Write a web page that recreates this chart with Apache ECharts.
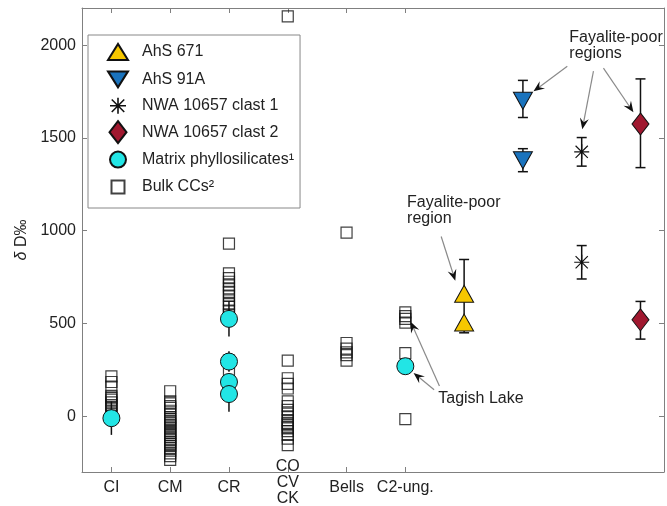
<!DOCTYPE html>
<html>
<head>
<meta charset="utf-8">
<script src="https://cdn.jsdelivr.net/npm/echarts@6/dist/echarts.min.js"></script>
<style>
html,body{margin:0;padding:0;background:#fff;}
#main{width:667px;height:506px;}
</style>
</head>
<body>
<div id="main"></div>
<script>
// ---- data ----
const categories = ['CI', 'CM', 'CR', 'CO\nCV\nCK', 'Bells', 'C2-ung.'];
const yTicks = [0, 500, 1000, 1500, 2000];

// Bulk CCs (one array per class)
const bulkCI = [215, 185, 160, 110, 100, 90, 75, 60, 45, 25, 10];
const bulkCM = [135, 80, 70, 55, 45, 30, 10, -5, -15, -25, -35, -45, -55, -65, -80, -90, -100, -110, -120, -130, -140, -150, -160, -170, -185, -200, -215, -235];
const bulkCR = [930, 770, 745, 725, 705, 690, 670, 650, 625, 605, 590, 570, 550, 300, 250];
const bulkCO = [2155, 300, 205, 175, 150, 80, 55, 35, 15, 0, -20, -35, -45, -55, -65, -80, -100, -120, -155];
const bulkBells = [990, 395, 365, 345, 330, 300];
const bulkC2 = [560, 540, 525, 505, 340, -15];

// Matrix phyllosilicates
const matrixCat = [1, 3, 3, 3, 3, 6];
const matrixVal = [-10, 525, 295, 185, 120, 270];
const matrixLow = [-100, 430, 240, null, 25, null];
const matrixHigh = [80, 620, 350, null, 215, null];

// Samples (category slot, value, error low, error high)
const ahs671Pos = 7;
const ahs671Val = [660, 505];
const ahs671Low = [480, 450];
const ahs671High = [845, 505];

const ahs91Pos = 8;
const ahs91Val = [1700, 1380];
const ahs91Low = [1610, 1318];
const ahs91High = [1810, 1442];

const clast1Pos = 9;
const clast1Val = [1425, 830];
const clast1Low = [1348, 740];
const clast1High = [1502, 920];

const clast2Pos = 10;
const clast2Val = [1575, 520];
const clast2Low = [1340, 416];
const clast2High = [1818, 619];

// ---- build ----
const FONT = '"Liberation Sans", Arial, Helvetica, sans-serif';
const bulkGroups = [bulkCI, bulkCM, bulkCR, bulkCO, bulkBells, bulkC2];
const bulkData = [];
bulkGroups.forEach((g, i) => g.forEach(v => bulkData.push([i + 1, v])));

const matrixData = matrixVal.map((v, i) => [matrixCat[i], v]);
const matrixErr = [];
matrixVal.forEach((v, i) => { if (matrixLow[i] != null) matrixErr.push([matrixCat[i], matrixLow[i], matrixHigh[i]]); });

function pts(pos, vals) { return vals.map(v => [pos, v]); }
function errs(pos, lo, hi) { return lo.map((l, i) => [pos, l, hi[i]]); }

const sampleErr = [].concat(
  errs(ahs671Pos, ahs671Low, ahs671High),
  errs(ahs91Pos, ahs91Low, ahs91High),
  errs(clast1Pos, clast1Low, clast1High),
  errs(clast2Pos, clast2Low, clast2High)
);

function errRender(caps) {
  return function (params, api) {
    const x = api.value(0), lo = api.value(1), hi = api.value(2);
    const a = api.coord([x, lo]), b = api.coord([x, hi]);
    const st = { stroke: '#111', lineWidth: 1.5 };
    const ch = [{ type: 'line', shape: { x1: a[0], y1: a[1], x2: b[0], y2: b[1] }, style: st }];
    if (caps) {
      ch.push({ type: 'line', shape: { x1: a[0] - 5, y1: a[1], x2: a[0] + 5, y2: a[1] }, style: st });
      ch.push({ type: 'line', shape: { x1: b[0] - 5, y1: b[1], x2: b[0] + 5, y2: b[1] }, style: st });
    }
    return { type: 'group', children: ch };
  };
}

const asterisk = 'path://M9.2,0 L10.8,0 L10.8,20 L9.2,20 Z M0,9.2 L20,9.2 L20,10.8 L0,10.8 Z M2.4,1.3 L18.7,17.6 L17.6,18.7 L1.3,2.4 Z M17.6,1.3 L18.7,2.4 L2.4,18.7 L1.3,17.6 Z';

// legend icons in a common 22x22 frame (M0,0 M22,22 fixes the frame)
const F = 'path://M0,0 M22,22 ';
const legendIcons = {
  up: F + 'M1,19 L11,3 L21,19 Z',
  down: F + 'M1,3 L21,3 L11,19 Z',
  star: F + 'M10.2,3 L11.8,3 L11.8,19 L10.2,19 Z M3,10.2 L19,10.2 L19,11.8 L3,11.8 Z M5.3,4.2 L17.8,16.7 L16.7,17.8 L4.2,5.3 Z M16.7,4.2 L17.8,5.3 L5.3,17.8 L4.2,16.7 Z',
  diamond: F + 'M11,0 L19.5,11 L11,22 L2.5,11 Z',
  circle: F + 'M3,11 A8,8 0 1,1 19,11 A8,8 0 1,1 3,11 Z',
  square: F + 'M4.5,4.5 L17.5,4.5 L17.5,17.5 L4.5,17.5 Z'
};

const chart = echarts.init(document.getElementById('main'), null, { renderer: 'canvas' });

const axisCol = '#808080';
const option = {
  backgroundColor: '#fff',
  animation: false,
  textStyle: { fontFamily: FONT },
  grid: { left: 82, right: 3, top: 8, bottom: 34, containLabel: false },
  legend: {
    orient: 'vertical',
    left: 88, top: 35,
    padding: [5, 6, 9, 18],
    itemGap: 3.4,
    itemWidth: 22, itemHeight: 22,
    borderColor: '#888', borderWidth: 1,
    backgroundColor: '#fff',
    textStyle: { fontSize: 16, color: '#222', fontFamily: FONT, padding: [0, 0, 0, 8] },
    data: [
      { name: 'AhS 671', icon: legendIcons.up },
      { name: 'AhS 91A', icon: legendIcons.down },
      { name: 'NWA 10657 clast 1', icon: legendIcons.star },
      { name: 'NWA 10657 clast 2', icon: legendIcons.diamond },
      { name: 'Matrix phyllosilicates¹', icon: legendIcons.circle },
      { name: 'Bulk CCs²', icon: legendIcons.square }
    ],
    selectedMode: false
  },
  xAxis: [{
    type: 'value', min: 0.5, max: 10.4,
    axisLine: { show: true, onZero: false, lineStyle: { color: axisCol } },
    axisTick: { show: true, inside: true, length: 5, lineStyle: { color: axisCol }, customValues: [1, 2, 3, 4, 5, 6] },
    axisLabel: {
      customValues: [1, 2, 3, 4, 5, 6], margin: 8, fontSize: 16, color: '#222', fontFamily: FONT,
      formatter: v => (v === 4 ? '' : categories[v - 1])
    },
    splitLine: { show: false }
  }, {
    type: 'value', min: 0.5, max: 10.4, position: 'top',
    axisLine: { show: true, onZero: false, lineStyle: { color: axisCol } },
    axisTick: { show: true, inside: true, length: 5, lineStyle: { color: axisCol }, customValues: [1, 2, 3, 4, 5, 6] },
    axisLabel: { show: false },
    splitLine: { show: false }
  }],
  yAxis: [{
    type: 'value', min: -300, max: 2200,
    name: '{i|δ} D‰', nameLocation: 'middle', nameGap: 28,
    nameTextStyle: { fontSize: 16, color: '#222', fontFamily: FONT, rich: { i: { fontStyle: 'italic', fontSize: 16, fontFamily: FONT } } },
    axisLine: { show: true, onZero: false, lineStyle: { color: axisCol } },
    axisTick: { show: true, inside: true, length: 5, lineStyle: { color: axisCol }, customValues: yTicks },
    axisLabel: { customValues: yTicks, margin: 6, fontSize: 16, color: '#222', fontFamily: FONT, formatter: v => String(v) },
    splitLine: { show: false }
  }, {
    type: 'value', min: -300, max: 2200, position: 'right',
    axisLine: { show: true, onZero: false, lineStyle: { color: axisCol } },
    axisTick: { show: true, inside: true, length: 5, lineStyle: { color: axisCol }, customValues: yTicks },
    axisLabel: { show: false },
    splitLine: { show: false }
  }],
  series: [
    {
      name: 'Bulk CCs²', type: 'scatter', data: bulkData, symbol: 'rect', symbolSize: 11, z: 2,
      itemStyle: { color: 'rgba(255,255,255,0)', borderColor: '#111', borderWidth: 1.2 }
    },
    { type: 'custom', renderItem: errRender(false), data: matrixErr, encode: { x: 0, y: [1, 2] }, z: 3, silent: true },
    {
      name: 'Matrix phyllosilicates¹', type: 'scatter', data: matrixData, symbol: 'circle', symbolSize: 17, z: 4,
      itemStyle: { color: '#22e5e5', borderColor: '#111', borderWidth: 1, opacity: 1 }
    },
    { type: 'custom', renderItem: errRender(true), data: sampleErr, encode: { x: 0, y: [1, 2] }, z: 3, silent: true },
    {
      name: 'AhS 671', type: 'scatter', data: pts(ahs671Pos, ahs671Val), symbol: 'triangle', symbolSize: [19, 17], z: 4,
      itemStyle: { color: '#f6c700', borderColor: '#111', borderWidth: 1, opacity: 1 }
    },
    {
      name: 'AhS 91A', type: 'scatter', data: pts(ahs91Pos, ahs91Val), symbol: 'triangle', symbolRotate: 180, symbolSize: [19, 17], z: 4,
      itemStyle: { color: '#1a73bd', borderColor: '#111', borderWidth: 1, opacity: 1 }
    },
    {
      name: 'NWA 10657 clast 1', type: 'scatter', data: pts(clast1Pos, clast1Val), symbol: asterisk, symbolSize: 15, z: 4,
      itemStyle: { color: '#111', opacity: 1 }
    },
    {
      name: 'NWA 10657 clast 2', type: 'scatter', data: pts(clast2Pos, clast2Val), symbol: 'diamond', symbolSize: [17, 22], z: 4,
      itemStyle: { color: '#a0182f', borderColor: '#111', borderWidth: 1, opacity: 1 }
    }
  ]
};
chart.setOption(option);

// ---- annotations (anchored in data coordinates) ----
const annoTexts = [
  { text: 'Fayalite-poor\nregions', at: [8.79, 2085] },
  { text: 'Fayalite-poor\nregion', at: [6.03, 1196] },
  { text: 'Tagish Lake', at: [6.56, 140] }
];
const annoArrows = [
  { from: [8.755, 1886], to: [8.18, 1751] },
  { from: [9.2, 1860], to: [9.01, 1547] },
  { from: [9.37, 1876], to: [9.88, 1638] },
  { from: [6.61, 969], to: [6.85, 731] },
  { from: [6.58, 164], to: [6.09, 510] },
  { from: [6.49, 143], to: [6.14, 234] }
];

function toPx(p) { return chart.convertToPixel({ gridIndex: 0 }, p); }
const gfx = [];
annoTexts.forEach(t => {
  const p = toPx(t.at);
  gfx.push({ type: 'text', x: p[0], y: p[1], z: 10, style: { text: t.text, font: '16px ' + FONT, fill: '#222', lineHeight: 16, textAlign: 'left', textVerticalAlign: 'top' } });
});
annoArrows.forEach(a => {
  const p = toPx(a.from), q = toPx(a.to);
  const dx = q[0] - p[0], dy = q[1] - p[1];
  const L = Math.sqrt(dx * dx + dy * dy), ux = dx / L, uy = dy / L;
  const nx = -uy, ny = ux;
  const hl = 11, hw = 4.5, notch = 7;
  const base = [q[0] - ux * hl, q[1] - uy * hl];
  const mid = [q[0] - ux * notch, q[1] - uy * notch];
  gfx.push({ type: 'line', z: 10, shape: { x1: p[0], y1: p[1], x2: mid[0], y2: mid[1] }, style: { stroke: '#8a8a8a', lineWidth: 1.2 } });
  gfx.push({ type: 'polygon', z: 10, shape: { points: [q, [base[0] + nx * hw, base[1] + ny * hw], mid, [base[0] - nx * hw, base[1] - ny * hw]] }, style: { fill: '#111' } });
});
// multi-line category label for CO/CV/CK
const coPx = toPx([4, -300]);
gfx.push({ type: 'text', x: coPx[0], y: coPx[1] + 11, z: 10, style: { text: categories[3], font: '16px ' + FONT, fill: '#222', lineHeight: 16, textAlign: 'center', textVerticalAlign: 'middle' } });
chart.setOption({ graphic: gfx });
</script>
</body>
</html>
